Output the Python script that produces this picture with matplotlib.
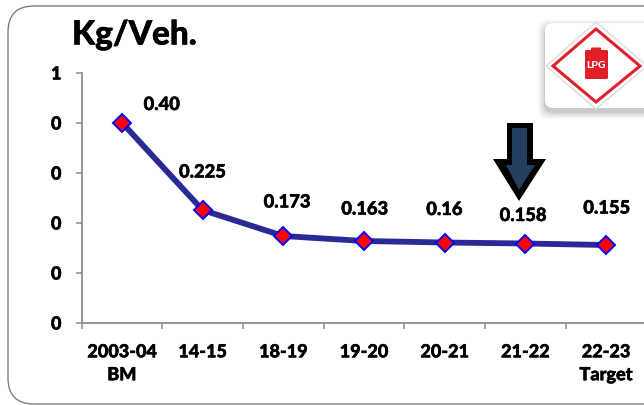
import matplotlib
matplotlib.use('Agg')
import matplotlib.pyplot as plt
import matplotlib.patheffects as pe
from matplotlib.patches import FancyBboxPatch, Polygon

plt.rcParams['font.family'] = ['Lato', 'DejaVu Sans']

W, H = 644, 405

years = ['2003-04\nBM', '14-15', '18-19', '19-20', '20-21', '21-22', '22-23\nTarget']
kg_per_veh = [0.40, 0.225, 0.173, 0.163, 0.16, 0.158, 0.155]
value_labels = ['0.40', '0.225', '0.173', '0.163', '0.16', '0.158', '0.155']
y_ticks = [0, 0.1, 0.2, 0.3, 0.4, 0.5]
y_tick_labels = ['0', '0', '0', '0', '0', '1']
# pixel offsets of the value labels from their points
label_dx = [40, 0, 4, 1, 0, -2, 1]
label_dy = [18, 38, 34, 32, 33, 28, 37]

# thin outline to thicken the bold text
heavy = [pe.withStroke(linewidth=0.35, foreground='black')]

fig = plt.figure(figsize=(W / 100, H / 100), dpi=100)

# overlay in pixel coordinates for the frame, arrow and badge
bg = fig.add_axes([0, 0, 1, 1], zorder=0)
bg.set_xlim(0, W)
bg.set_ylim(H, 0)
bg.axis('off')
bg.add_patch(FancyBboxPatch((8, 6), 720, 398, boxstyle='round,pad=0,rounding_size=26',
                            fc='white', ec='#7f7f7f', lw=1.0))

ax = fig.add_axes([81.5 / W, 1 - 322.5 / H, 564.7 / W, 250 / H], zorder=1)
ax.patch.set_alpha(0)
ax.plot(range(len(kg_per_veh)), kg_per_veh, color='#2a2a96', lw=4.2, marker='D', ms=9.4,
        mfc='#ff0000', mec='#0000ff', mew=1.4, clip_on=False, zorder=3)
for i, v in enumerate(kg_per_veh):
    ax.annotate(value_labels[i], (i, v), xytext=(label_dx[i] * 0.72, label_dy[i] * 0.72),
                textcoords='offset points', ha='center', va='center',
                fontsize=13.2, fontweight=900, color='black', path_effects=heavy)

ax.set_xlim(-0.5, 6.5)
ax.set_ylim(0, 0.5)
ax.set_xticks([i - 0.5 for i in range(8)])
ax.set_xticklabels([])
ax.set_xticks(range(7), labels=years, minor=True)
ax.set_yticks(y_ticks)
ax.set_yticklabels(y_tick_labels, fontsize=13, fontweight=900, path_effects=heavy)
ax.tick_params(axis='y', length=4.5, width=1.1, color='#8c8c8c', pad=10)
ax.tick_params(axis='x', which='major', length=4.5, width=1.1, color='#8c8c8c')
ax.tick_params(axis='x', which='minor', length=0, pad=15, labelsize=13)
for t in ax.get_xticklabels(minor=True):
    t.set_fontweight(900)
    t.set_linespacing(1.42)
    t.set_path_effects(heavy)
for s in ['top', 'right']:
    ax.spines[s].set_visible(False)
for s in ['left', 'bottom']:
    ax.spines[s].set_color('#8c8c8c')
    ax.spines[s].set_linewidth(1.3)

# top layer: title, arrow and LPG badge
fg = fig.add_axes([0, 0, 1, 1], zorder=2)
fg.set_xlim(0, W)
fg.set_ylim(H, 0)
fg.axis('off')
fg.patch.set_alpha(0)
fg.text(72, 35, 'Kg/Veh.', fontsize=24, fontweight=900, ha='left', va='center', path_effects=heavy)

fg.add_patch(Polygon([(507, 123), (533, 123), (533, 159), (546, 159), (519, 201), (493, 159), (507, 159)],
                     closed=True, fc='black', ec='none'))
fg.add_patch(Polygon([(512, 128), (527, 128), (527, 165), (535, 165), (519, 190), (506, 165), (512, 165)],
                     closed=True, fc='#243f60', ec='none'))

# soft shadow under the badge
for grow, alpha in [(7, 0.03), (5, 0.05), (3, 0.06), (1, 0.08)]:
    fg.add_patch(FancyBboxPatch((545 - grow, 27 - grow), 110 + 2 * grow, 85 + 2 * grow,
                                boxstyle='round,pad=0,rounding_size=9',
                                fc='black', ec='none', alpha=alpha))
fg.add_patch(FancyBboxPatch((545, 23), 110, 85, boxstyle='round,pad=0,rounding_size=8',
                            fc='white', ec='none'))
fg.add_patch(Polygon([(596, 22), (647, 66), (596, 109), (546, 66)], closed=True,
                     fc='none', ec='#dcdcdc', lw=1.0))
fg.add_patch(Polygon([(596, 29), (640, 66), (596, 102), (553, 66)], closed=True,
                     fc='white', ec='#e2202c', lw=2.2))
fg.add_patch(FancyBboxPatch((585, 50), 23, 29, boxstyle='round,pad=0,rounding_size=1.5',
                            fc='#e01f26', ec='none'))
fg.add_patch(FancyBboxPatch((591, 47.5), 10, 3, boxstyle='round,pad=0,rounding_size=1',
                            fc='#e01f26', ec='none'))
fg.text(596.5, 65.5, 'LPG', fontsize=7.5, fontweight=900, color='white', ha='center', va='center')

fig.savefig('out.png', dpi=100)
